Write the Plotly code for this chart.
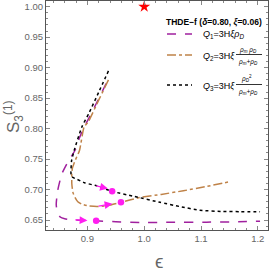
import plotly.graph_objects as go

# ---- data ----
q1_x = [0.933, 0.916, 0.903, 0.894, 0.886, 0.878, 0.8666, 0.855, 0.8475, 0.845, 0.847, 0.852, 0.860, 0.875, 0.896, 0.915, 0.95, 0.993, 1.05, 1.110, 1.16, 1.204]
q1_y = [0.874, 0.842, 0.818, 0.8023, 0.785, 0.764, 0.747, 0.726, 0.698, 0.676, 0.662, 0.655, 0.652, 0.650, 0.6495, 0.6486, 0.6472, 0.646, 0.6462, 0.6465, 0.647, 0.648]

q2_x = [0.937, 0.920, 0.902, 0.894, 0.886, 0.878, 0.8735, 0.8724, 0.8725, 0.8745, 0.878, 0.883, 0.890, 0.902, 0.9165, 0.930, 0.940, 0.959, 0.9928, 1.03, 1.069, 1.11, 1.1525]
q2_y = [0.880, 0.847, 0.812, 0.8023, 0.764, 0.747, 0.735, 0.726, 0.709, 0.695, 0.687, 0.680, 0.676, 0.673, 0.672, 0.673, 0.6745, 0.679, 0.687, 0.692, 0.698, 0.705, 0.7133]

q3_x = [0.937, 0.920, 0.903, 0.890, 0.8766, 0.872, 0.871, 0.8725, 0.876, 0.881, 0.895, 0.9165, 0.9435, 0.981, 1.028, 1.063, 1.098, 1.139, 1.17, 1.204]
q3_y = [0.8946, 0.860, 0.826, 0.8023, 0.764, 0.747, 0.7256, 0.721, 0.719, 0.717, 0.711, 0.706, 0.697, 0.689, 0.679, 0.672, 0.666, 0.664, 0.6637, 0.6635]

dot_x = [0.9153, 0.959, 0.9435]
dot_y = [0.6486, 0.679, 0.697]

arrow_from_x = [0.876, 0.917, 0.913]
arrow_from_y = [0.6502, 0.6725, 0.7065]
arrow_to_x = [0.900, 0.944, 0.936]
arrow_to_y = [0.6493, 0.6765, 0.7015]

star_x = [1.0]
star_y = [1.0]

x_ticks = [0.9, 1.0, 1.1, 1.2]
y_ticks = [0.65, 0.70, 0.75, 0.80, 0.85, 0.90, 0.95, 1.00]

legend_title = "<b>THDE−f (<i>δ</i>=0.80, <i>ξ</i>=0.06)</b>"
x_title = "ϵ"
y_title = "S<sub>3</sub><sup>(1)</sup>"
Q1_COLOR = "#A0209E"
Q2_COLOR = "#BF8248"
Q3_COLOR = "#000000"
DOT_COLOR = "#FF1EF0"
GRAY = "#666666"

fig = go.Figure()
fig.add_trace(go.Scatter(x=q1_x, y=q1_y, mode="lines", line=dict(color=Q1_COLOR, width=1.5, dash="dash", shape="spline", smoothing=0.5), showlegend=False))
fig.add_trace(go.Scatter(x=q2_x, y=q2_y, mode="lines", line=dict(color=Q2_COLOR, width=1.5, dash="dashdot", shape="spline", smoothing=0.5), showlegend=False))
fig.add_trace(go.Scatter(x=q3_x, y=q3_y, mode="lines", line=dict(color=Q3_COLOR, width=1.5, dash="dot", shape="spline", smoothing=0.5), showlegend=False))
fig.add_trace(go.Scatter(x=dot_x, y=dot_y, mode="markers", marker=dict(color=DOT_COLOR, size=6.5), showlegend=False))
fig.add_trace(go.Scatter(x=star_x, y=star_y, mode="markers", marker=dict(color="#FF0000", size=9, symbol="star"), showlegend=False, cliponaxis=False))

for fx, fy, tx, ty in zip(arrow_from_x, arrow_from_y, arrow_to_x, arrow_to_y):
    fig.add_annotation(x=tx, y=ty, ax=fx, ay=fy, xref="x", yref="y", axref="x", ayref="y",
                       text="", showarrow=True, arrowhead=2, arrowsize=1.2, arrowwidth=1.3, arrowcolor=DOT_COLOR)

# ---- manual legend (paper coordinates) ----
def px2paper_x(px):
    return (px - 46) / 222.0

def px2paper_y(py):
    return (230 - py) / 229.0

fig.add_annotation(x=px2paper_x(164), y=px2paper_y(22), xref="paper", yref="paper", text=legend_title,
                   showarrow=False, xanchor="left", yanchor="middle", font=dict(size=8.5, color="black"))

samples = [(34, Q1_COLOR, "dash"), (55, Q2_COLOR, "dashdot"), (85, Q3_COLOR, "dot")]
for py, col, dash in samples:
    fig.add_shape(type="line", xref="paper", yref="paper", x0=px2paper_x(167), x1=px2paper_x(192),
                  y0=px2paper_y(py), y1=px2paper_y(py), line=dict(color=col, width=1.5, dash=dash))

lab_font = dict(size=9, color="black")
fig.add_annotation(x=px2paper_x(201), y=px2paper_y(34), xref="paper", yref="paper",
                   text="<i>Q</i><sub>1</sub>=3H<i>ξρ</i><sub><i>D</i></sub>", showarrow=False,
                   xanchor="left", yanchor="middle", font=lab_font)
fig.add_annotation(x=px2paper_x(201), y=px2paper_y(56), xref="paper", yref="paper",
                   text="<i>Q</i><sub>2</sub>=3H<i>ξ</i>", showarrow=False,
                   xanchor="left", yanchor="middle", font=lab_font)
fig.add_annotation(x=px2paper_x(201), y=px2paper_y(86), xref="paper", yref="paper",
                   text="<i>Q</i><sub>3</sub>=3H<i>ξ</i>", showarrow=False,
                   xanchor="left", yanchor="middle", font=lab_font)
small = dict(size=6.5, color="black")
# fraction for Q2
fig.add_annotation(x=px2paper_x(248), y=px2paper_y(49.5), xref="paper", yref="paper",
                   text="<i>ρ<sub>m</sub> ρ<sub>D</sub></i>", showarrow=False, xanchor="center", yanchor="middle", font=small)
fig.add_shape(type="line", xref="paper", yref="paper", x0=px2paper_x(236), x1=px2paper_x(262),
              y0=px2paper_y(54.5), y1=px2paper_y(54.5), line=dict(color="black", width=0.8))
fig.add_annotation(x=px2paper_x(248), y=px2paper_y(61.5), xref="paper", yref="paper",
                   text="<i>ρ<sub>m</sub>+ρ<sub>D</sub></i>", showarrow=False, xanchor="center", yanchor="middle", font=small)
# fraction for Q3
fig.add_annotation(x=px2paper_x(246), y=px2paper_y(78.5), xref="paper", yref="paper",
                   text="<i>ρ<sub>D</sub></i><sup>2</sup>", showarrow=False, xanchor="center", yanchor="middle", font=small)
fig.add_shape(type="line", xref="paper", yref="paper", x0=px2paper_x(236), x1=px2paper_x(262),
              y0=px2paper_y(84.5), y1=px2paper_y(84.5), line=dict(color="black", width=0.8))
fig.add_annotation(x=px2paper_x(248), y=px2paper_y(91.5), xref="paper", yref="paper",
                   text="<i>ρ<sub>m</sub>+ρ<sub>D</sub></i>", showarrow=False, xanchor="center", yanchor="middle", font=small)

# axis titles
fig.add_annotation(x=px2paper_x(159), y=px2paper_y(261), xref="paper", yref="paper", text=x_title,
                   showarrow=False, xanchor="center", yanchor="middle", font=dict(size=19, color=GRAY))
fig.add_annotation(x=px2paper_x(13), y=px2paper_y(117), xref="paper", yref="paper", text=y_title,
                   showarrow=False, xanchor="center", yanchor="middle", textangle=-90,
                   font=dict(size=17, color=GRAY))

axis_common = dict(showgrid=False, zeroline=False, ticks="inside", ticklen=4, tickcolor="#888888",
                   showline=True, linecolor="#555555", linewidth=1, mirror="allticks", automargin=False,
                   tickfont=dict(size=9.5, color=GRAY, family="Liberation Sans"))

fig.update_xaxes(range=[0.827, 1.218], tickvals=x_ticks, ticktext=[f"{v:.1f}" for v in x_ticks],
                 minor=dict(ticks="inside", ticklen=2, dtick=0.02, tick0=0.8, tickcolor="#888888"),
                 **axis_common)
fig.update_yaxes(range=[0.6336, 1.0093], tickvals=y_ticks, ticktext=[f"{v:.2f}" for v in y_ticks],
                 minor=dict(ticks="inside", ticklen=2, dtick=0.01, tick0=0.6, tickcolor="#888888"),
                 **axis_common)

fig.update_layout(width=273, height=273, margin=dict(l=46, r=5, t=1, b=43),
                  paper_bgcolor="white", plot_bgcolor="white",
                  font=dict(family="Liberation Sans"), showlegend=False)

fig.write_html("out.html", config={"displayModeBar": False},
               post_script="document.body.style.margin='0';document.body.style.padding='0';")
